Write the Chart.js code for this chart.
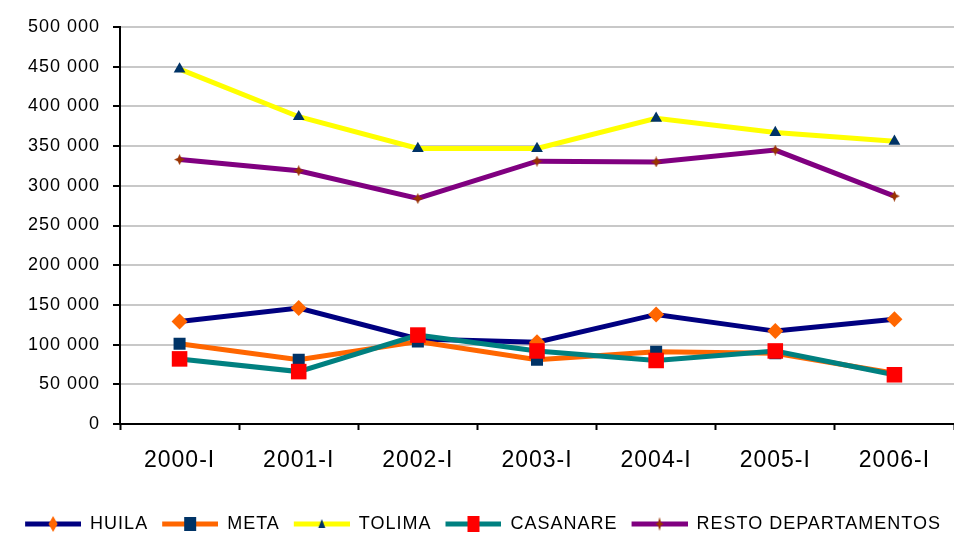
<!DOCTYPE html>
<html><head><meta charset="utf-8">
<script src="https://cdn.jsdelivr.net/npm/chart.js@4"></script>
<style>html,body{margin:0;padding:0;background:#fff;} canvas{display:block;}</style>
</head><body>
<canvas id="c" width="954" height="533"></canvas>
<script>
const categories = ['2000-I','2001-I','2002-I','2003-I','2004-I','2005-I','2006-I'];
const seriesNames = ['HUILA','META','TOLIMA','CASANARE','RESTO DEPARTAMENTOS'];
const huila    = [129000,146000,107000,103000,138000,117000,132000];
const meta     = [101000, 81000,104000, 81000, 91000, 89000, 64000];
const tolima   = [447000,387000,347000,347000,385000,367000,356000];
const casanare = [ 82000, 66000,112000, 92000, 80000, 92000, 62000];
const resto    = [333000,319000,284000,331000,330000,345000,287000];
const yMin = 0, yMax = 500000, yStep = 50000;

const lineColors   = ['#000080','#FF6600','#FFFF00','#008080','#800080'];
const markerColors = ['#FF6600','#003366','#003366','#FF0000','#993300'];

function starPath(ctx, cx, cy, rx, ry, inner){
  ctx.beginPath();
  ctx.moveTo(cx, cy-ry);
  ctx.lineTo(cx+inner, cy-inner);
  ctx.lineTo(cx+rx, cy);
  ctx.lineTo(cx+inner, cy+inner);
  ctx.lineTo(cx, cy+ry);
  ctx.lineTo(cx-inner, cy+inner);
  ctx.lineTo(cx-rx, cy);
  ctx.lineTo(cx-inner, cy-inner);
  ctx.closePath();
}
function starCanvas(size, color){
  const c = document.createElement('canvas');
  c.width = size; c.height = size;
  const g = c.getContext('2d');
  g.fillStyle = color;
  starPath(g, size/2, size/2, size/2, size/2, size*0.16);
  g.fill();
  return c;
}
function legendCanvas(i){
  const W = 62, H = 20, L = 6;
  const c = document.createElement('canvas');
  c.width = W; c.height = H;
  const g = c.getContext('2d');
  g.strokeStyle = lineColors[i]; g.lineWidth = 5;
  g.beginPath(); g.moveTo(L, H/2); g.lineTo(W, H/2); g.stroke();
  const cx = (L + W)/2, cy = H/2;
  g.fillStyle = markerColors[i];
  g.beginPath();
  if (i === 0) { g.moveTo(cx, cy-8); g.lineTo(cx+4.5, cy); g.lineTo(cx, cy+8); g.lineTo(cx-4.5, cy); g.closePath(); g.fill(); }
  else if (i === 1) { g.fillRect(cx-6, cy-7, 12, 14); }
  else if (i === 2) { g.moveTo(cx, cy-5); g.lineTo(cx+3.5, cy+4); g.lineTo(cx-3.5, cy+4); g.closePath(); g.fill(); }
  else if (i === 3) { g.fillRect(cx-6, cy-8, 12, 16); }
  else { starPath(g, cx, cy, 4, 7, 1.5); g.fill(); }
  return c;
}

Chart.defaults.font.family = '"Liberation Sans", Arial, sans-serif';
Chart.defaults.color = '#000';

const spacing = {
  id: 'spacing',
  beforeUpdate(c){ c.ctx.letterSpacing = '1px'; },
  beforeLayout(c){ c.ctx.letterSpacing = '1px'; },
  beforeDraw(c){ c.ctx.letterSpacing = '1px'; }
};
const legendShift = {
  id: 'legendShift',
  afterLayout(c){ c.legend.top += 10; c.legend.bottom += 10; }
};

const values = [huila, meta, tolima, casanare, resto];
const styles = ['rectRot','rect','triangle','rect', starCanvas(11, markerColors[4])];
const radii = [8, 8.5, 6.8, 11, 6];
const legendImgs = seriesNames.map((n,i)=>legendCanvas(i));

const datasets = seriesNames.map((name, i) => ({
  label: name,
  data: values[i],
  borderColor: lineColors[i],
  backgroundColor: markerColors[i],
  borderWidth: 5,
  tension: 0,
  pointStyle: styles[i],
  pointRadius: radii[i],
  pointBorderWidth: 0,
  pointBorderColor: markerColors[i],
  pointBackgroundColor: markerColors[i],
  order: 5 - i
}));

new Chart(document.getElementById('c'), {
  type: 'line',
  data: { labels: categories, datasets },
  plugins: [spacing, legendShift],
  options: {
    responsive: false,
    animation: false,
    layout: { autoPadding: false, padding: { top: 27, left: 0, right: -6, bottom: 0 } },
    plugins: {
      tooltip: { enabled: false },
      legend: {
        position: 'bottom',
        labels: {
          usePointStyle: true,
          pointStyleWidth: 62,
          padding: 8,
          font: { size: 18 },
          color: '#000',
          sort: (a, b) => a.datasetIndex - b.datasetIndex,
          generateLabels(chart){
            const items = Chart.defaults.plugins.legend.labels.generateLabels(chart);
            items.forEach(it => { it.pointStyle = legendImgs[it.datasetIndex]; });
            return items;
          }
        }
      }
    },
    scales: {
      x: {
        offset: true,
        grid: { display: true, drawOnChartArea: false, drawTicks: true, tickLength: 6, tickColor: '#000', tickWidth: 2, offset: true },
        border: { display: true, color: '#000', width: 2 },
        ticks: { font: { size: 23 }, padding: 17, color: '#000', maxRotation: 0 },
        afterFit(s){ s.height = 73; }
      },
      y: {
        min: yMin, max: yMax,
        grid: { color: '#c8c8c8', lineWidth: 2, tickColor: '#000', tickLength: 7, tickWidth: 2 },
        border: { display: true, color: '#000', width: 2 },
        ticks: {
          stepSize: yStep,
          font: { size: 18 },
          padding: 13,
          color: '#000',
          callback: v => String(v).replace(/\B(?=(\d{3})+(?!\d))/g, ' ')
        },
        afterFit(s){ s.width = 120; }
      }
    }
  }
});
</script>
</body></html>
